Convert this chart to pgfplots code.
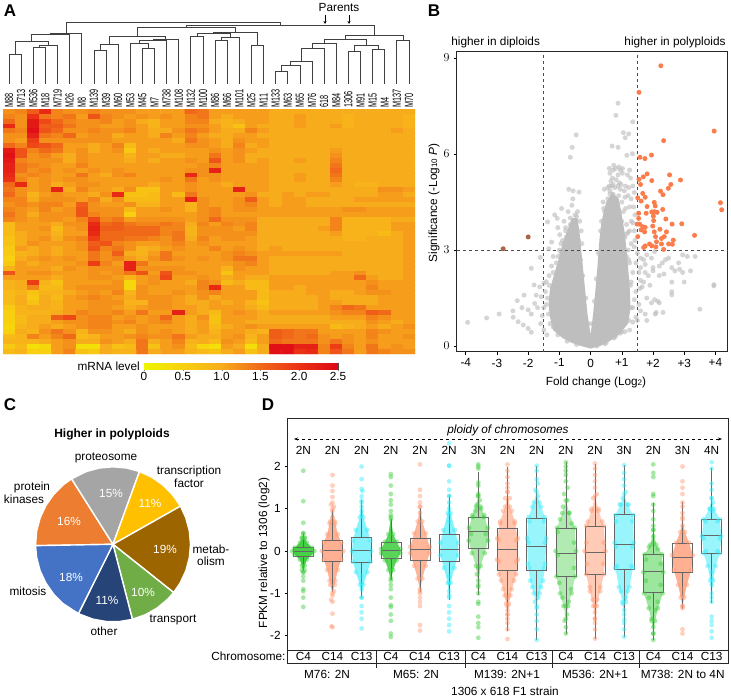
\documentclass[border=0pt]{standalone}
\usepackage{fontspec}
\setmainfont{Liberation Sans}
\usepackage{pgfplots}
\pgfplotsset{compat=1.18}
\usepgfplotslibrary{polar,statistics}
\usetikzlibrary{arrows.meta}

\definecolor{gC}{RGB}{60,205,60}
\definecolor{sC}{RGB}{255,150,110}
\definecolor{cC}{RGB}{50,235,250}
\definecolor{vol}{RGB}{190,190,190}
\definecolor{org}{RGB}{250,125,75}
\definecolor{brn}{RGB}{170,100,70}
\definecolor{p1}{RGB}{237,125,49}
\definecolor{p2}{RGB}{165,165,165}
\definecolor{p3}{RGB}{255,192,0}
\definecolor{p4}{RGB}{156,101,0}
\definecolor{p5}{RGB}{112,173,71}
\definecolor{p6}{RGB}{38,68,120}
\definecolor{p7}{RGB}{68,114,196}

\pgfplotsset{
  colormap={hm}{rgb255=(238,245,0) rgb255=(248,208,15) rgb255=(247,172,28) rgb255=(240,105,25) rgb255=(235,50,20) rgb255=(222,8,22)},
  dend/.style={no markers,color=black!75,line width=0.75pt},
  dots/.style={only marks,mark=*,mark size=2.4pt,mark options={draw=#1,draw opacity=0,fill=#1,fill opacity=0.45}},
  gdots/.style={only marks,mark=*,mark size=2.5pt,mark options={draw=vol,draw opacity=0,fill=vol,fill opacity=0.65}},
  vdots/.style={only marks,mark=*,mark size=2.5pt,mark options={draw=#1,draw opacity=0,fill=#1}},
  slice/.style={fill=#1,draw=white,line width=1.4pt,no markers},
}
% dendrogram merge: x1 h1 height x2 h2
\newcommand\mg[5]{\addplot[dend] coordinates {(#1,#2)(#1,#3)(#4,#3)(#4,#5)};}
\newcommand\hl[1]{\scalebox{0.62}[1]{#1}}
\newcommand\bx[6]{\addplot[color=black!60,line width=0.5pt,boxplot prepared={draw position=#1,lower whisker=#2,lower quartile=#3,median=#4,upper quartile=#5,upper whisker=#6,box extend=0.69,whisker extend=0,every median/.style={line width=0.9pt}}] coordinates {};}
% swarm body: colour, opacity, outline points
\newcommand\sw[3]{\addplot[fill=#1,fill opacity=#2,draw=none] coordinates {#3};\addplot[dots=#1] coordinates {#3};}

% mRNA level x10, rows top to bottom, 34 strains
\def\hmcoords{}
\foreach \row [count=\r] in {
{12,13,16,21,13,12,12,13,12,12,12,11,11,11,11,15,14,11,11,11,11,11,10,10,10,10,10,10,10,10,10,10,10,10},
{13,12,20,14,13,14,11,17,13,12,11,12,11,12,11,13,14,11,10,11,11,11,10,10,11,10,10,10,9,10,10,10,10,9},
{15,12,23,18,15,13,12,12,13,11,12,10,9,11,11,13,13,10,9,10,11,11,10,10,11,10,10,10,9,10,10,10,10,9},
{21,12,23,16,16,14,12,12,11,11,12,11,9,11,11,12,12,11,9,7,11,10,10,10,11,10,10,11,9,10,10,10,10,9},
{14,13,24,17,15,12,12,13,12,12,13,11,10,10,12,14,13,11,10,10,13,11,10,10,10,10,10,10,10,10,10,10,11,10},
{12,12,22,14,13,15,11,12,12,10,11,11,10,13,11,13,11,10,10,11,11,10,10,10,10,10,10,10,10,10,10,10,10,10},
{12,11,19,12,12,12,12,12,12,11,11,11,11,11,10,14,12,11,10,12,11,11,10,10,10,10,10,10,10,10,10,10,10,10},
{15,13,18,17,15,11,11,10,11,13,8,11,11,11,11,12,12,11,10,13,10,11,10,10,10,10,10,10,10,10,10,10,10,10},
{23,17,13,15,14,11,12,10,11,12,6,11,10,11,11,11,11,12,11,12,11,10,10,10,10,10,10,11,10,10,10,10,10,10},
{24,17,12,13,11,10,12,11,11,11,9,11,11,10,10,11,11,14,11,12,10,10,10,10,10,10,10,12,10,10,10,10,10,10},
{23,13,12,12,12,10,12,11,11,11,10,11,10,11,11,12,11,17,11,12,10,11,10,10,11,10,10,13,10,10,10,10,10,10},
{22,14,13,12,11,11,13,11,11,11,11,11,11,11,11,11,12,13,11,11,11,11,10,10,10,10,10,14,10,10,10,10,10,10},
{22,14,12,13,11,12,11,12,11,12,11,11,11,11,11,12,12,22,11,11,11,11,10,10,10,10,10,15,10,10,10,10,10,10},
{21,12,13,12,11,11,14,11,10,12,13,11,11,11,11,21,12,12,11,11,11,11,10,10,11,10,10,14,10,10,10,10,10,10},
{20,13,11,12,11,12,12,11,11,11,11,11,11,12,11,14,11,12,11,11,11,11,10,10,11,10,10,13,10,10,10,10,10,10},
{15,21,11,12,10,11,12,12,11,11,11,11,10,11,11,12,11,11,10,11,11,11,10,10,10,10,10,11,10,9,9,10,10,10},
{14,12,11,12,22,10,13,11,11,10,12,7,7,11,11,12,11,11,11,22,11,11,10,10,10,10,10,10,10,10,10,12,12,11},
{15,12,9,11,12,11,11,10,12,21,7,7,8,11,8,14,11,11,11,11,12,10,10,11,10,11,11,10,10,10,10,11,11,10},
{13,13,10,12,12,12,11,13,10,12,8,8,8,11,11,22,12,11,11,12,16,11,10,11,11,10,10,10,10,11,11,11,11,11},
{12,13,12,13,13,11,16,12,11,11,12,9,9,11,11,9,12,11,11,12,13,11,10,11,11,10,10,10,10,10,10,10,10,10},
{13,12,11,13,11,12,17,12,12,12,8,11,11,12,11,9,12,13,11,12,12,11,11,11,11,11,11,11,12,12,11,11,11,11},
{14,12,10,12,12,12,17,13,12,12,5,11,11,11,11,11,12,13,11,11,11,11,11,11,11,11,11,11,11,11,11,11,11,11},
{13,12,11,12,12,11,13,18,13,14,11,12,12,12,12,11,12,15,12,12,12,10,10,10,10,10,10,13,9,9,9,9,10,10},
{8,11,11,11,10,12,12,21,15,16,14,13,13,14,13,10,13,11,13,12,13,10,10,10,10,10,10,13,9,9,9,9,11,11},
{8,11,11,12,8,11,12,22,16,16,15,15,15,13,13,9,12,12,12,11,13,10,10,10,10,10,11,13,9,9,9,9,11,11},
{8,10,11,11,9,11,11,21,15,15,15,15,15,13,14,9,12,12,12,12,12,10,10,10,10,10,10,11,9,9,9,8,10,11},
{7,10,11,12,10,12,13,19,15,15,14,14,13,12,14,10,13,11,12,12,11,10,10,10,10,10,10,10,9,9,10,10,10,11},
{7,10,12,11,11,11,12,16,17,13,12,11,11,12,13,11,12,11,11,11,11,10,10,10,10,10,10,10,10,10,10,10,10,11},
{6,11,10,11,10,11,12,17,13,14,12,9,10,11,12,11,11,13,11,12,11,10,11,10,10,10,10,10,10,10,10,10,10,11},
{6,9,10,11,10,11,11,14,12,16,10,9,11,14,11,11,11,11,12,13,12,11,11,11,11,11,11,11,10,10,10,10,10,11},
{5,10,11,12,11,12,11,14,12,13,11,10,12,14,12,11,12,11,12,14,14,11,10,10,10,10,10,10,10,10,10,10,10,11},
{6,11,10,11,11,11,12,19,13,11,22,14,11,11,11,11,11,11,11,12,13,11,10,10,10,10,10,10,10,10,10,10,10,11},
{9,11,11,11,10,12,11,12,12,12,22,12,12,12,12,11,11,11,9,12,11,11,10,10,10,10,10,10,10,10,10,10,10,11},
{17,11,12,12,11,11,11,12,11,12,14,17,11,17,12,12,11,11,7,11,11,11,10,10,10,10,10,11,11,12,10,10,10,11},
{11,11,11,11,10,11,11,12,12,11,9,11,12,18,11,11,12,11,10,11,10,10,11,11,11,11,11,11,11,15,11,10,10,11},
{9,10,19,9,7,11,11,11,11,12,4,11,12,11,11,10,13,12,8,10,8,8,11,11,11,11,11,11,11,11,12,11,11,11},
{9,10,13,8,8,11,12,12,12,12,4,12,11,11,11,11,13,21,11,11,8,8,11,11,10,11,11,11,11,11,13,11,11,11},
{8,9,7,9,9,10,11,12,11,13,9,12,11,11,12,11,12,13,11,11,11,8,10,10,10,11,11,10,10,11,12,12,11,11},
{8,10,6,10,8,11,12,13,12,11,10,12,12,12,11,10,12,10,11,11,11,8,10,10,10,10,11,10,10,10,10,11,11,11},
{8,10,7,10,9,11,11,12,12,12,9,9,12,12,11,10,10,11,10,11,9,7,10,10,10,10,11,11,10,10,10,11,11,11},
{6,9,10,10,9,11,11,12,12,11,10,11,12,12,11,11,10,11,11,11,10,8,10,10,10,10,11,13,15,14,11,11,11,11},
{5,9,9,9,10,11,13,12,12,13,11,14,11,11,22,11,10,8,11,12,11,10,11,11,11,11,11,12,13,13,16,15,11,11},
{5,8,10,10,16,18,12,13,13,11,12,11,12,15,11,10,12,7,11,11,11,10,10,10,10,10,10,11,11,11,13,12,11,11},
{5,8,10,10,11,12,12,13,13,12,13,11,12,13,11,10,11,7,11,11,10,10,10,10,10,10,10,10,10,10,12,11,10,11},
{4,9,10,11,10,11,12,13,13,11,11,12,11,11,11,10,11,8,10,11,12,11,11,11,11,11,11,8,9,10,11,10,11,12},
{5,10,9,12,14,12,9,12,12,11,10,12,11,12,11,10,11,9,11,11,10,9,16,15,14,14,11,11,11,11,13,12,11,11},
{8,9,13,11,13,15,8,9,11,11,12,13,12,12,14,11,10,10,11,12,9,11,16,15,14,15,12,11,12,11,13,11,11,12},
{9,9,9,10,11,12,10,10,12,11,10,14,10,11,13,9,10,8,12,11,8,11,15,14,14,14,12,14,12,11,12,11,11,11},
{6,8,3,4,11,12,3,3,10,7,8,14,7,11,12,8,4,3,11,10,3,10,24,24,22,22,13,19,13,11,14,11,12,11},
{8,9,5,5,11,13,7,6,10,9,9,14,10,11,11,9,8,7,10,11,7,10,24,24,20,21,13,17,14,11,14,13,12,12}%
}{\foreach \v [count=\c] in \row {\xdef\hmcoords{\hmcoords(\c,\r)[\v]}}}

\begin{document}
\fontsize{11.8}{14}\selectfont
\begin{tikzpicture}
\useasboundingbox (0pt,0pt) rectangle (731pt,-698pt);

% A: dendrogram
\begin{axis}[at={(3pt,-84pt)},anchor=south west,scale only axis,width=412pt,height=66pt,
  hide axis,xmin=0.5,xmax=34.5,ymin=0,ymax=66,clip=false]
\mg{1}{0}{29.3}{2}{0}
\mg{3}{0}{37}{4}{0}
\mg{3.5}{37}{38.3}{5}{0}
\mg{1.5}{29.3}{42.3}{4.25}{38.3}
\mg{2.875}{42.3}{50}{6}{0}
\mg{4.44}{50}{50.7}{7}{0}
\mg{5.72}{50.7}{61.3}{23.38}{59}
\mg{15.64}{56.7}{59}{31.13}{49}
\mg{11.6}{47.7}{56.7}{19.69}{51.7}
\mg{9.25}{40}{47.7}{13.94}{45}
\mg{8.5}{33.7}{40}{10}{0}
\mg{8}{0}{33.7}{9}{0}
\mg{12.875}{44}{45}{15}{0}
\mg{11.75}{41}{44}{14}{0}
\mg{11}{0}{41}{12.5}{35.7}
\mg{12}{0}{35.7}{13}{0}
\mg{17.875}{50.7}{51.7}{21.5}{39}
\mg{16.5}{47.3}{50.7}{19.25}{47}
\mg{16}{0}{47.3}{17}{0}
\mg{18.5}{43.3}{47}{20}{0}
\mg{18}{0}{43.3}{19}{0}
\mg{21}{0}{39}{22}{0}
\mg{28.77}{44.7}{49}{33.5}{43.7}
\mg{27.03}{40.7}{44.7}{30.5}{38.7}
\mg{26.06}{35.7}{40.7}{28}{0}
\mg{25.125}{22.7}{35.7}{27}{0}
\mg{24.25}{18.7}{22.7}{26}{0}
\mg{23.5}{12.3}{18.7}{25}{0}
\mg{23}{0}{12.3}{24}{0}
\mg{29.5}{33}{38.7}{31.5}{34.3}
\mg{29}{0}{33}{30}{0}
\mg{31}{0}{34.3}{32}{0}
\mg{33}{0}{43.7}{34}{0}
\end{axis}

% A: heat map
\begin{axis}[at={(3pt,-354pt)},anchor=south west,scale only axis,width=412pt,height=245pt,
  xmin=0.5,xmax=34.5,ymin=0.5,ymax=50.5,y dir=reverse,axis line style={draw=none},
  colormap name=hm,point meta min=0,point meta max=25,
  xtick={1,...,34},ytick=\empty,major tick length=0pt,xticklabel pos=top,
  x tick label style={rotate=90,anchor=west,inner sep=1.5pt},
  xticklabels={\hl{M88},\hl{M713},\hl{M536},\hl{M18},\hl{M719},\hl{M26},\hl{M8},\hl{M139},\hl{M39},\hl{M60},\hl{M53},\hl{M45},\hl{M7},\hl{M738},\hl{M108},\hl{M132},\hl{M100},\hl{M86},\hl{M66},\hl{M101},\hl{M25},\hl{M11},\hl{M133},\hl{M63},\hl{M65},\hl{M76},\hl{618},\hl{M84},\hl{1306},\hl{M91},\hl{M15},\hl{M4},\hl{M137},\hl{M70}}]
\edef\tmp{\noexpand\addplot[matrix plot*,mesh/cols=34,point meta=explicit] coordinates {\hmcoords};}\tmp
\end{axis}

% A: colour key
\begin{axis}[at={(144pt,-369pt)},anchor=south west,scale only axis,width=194pt,height=6pt,
  xmin=0,xmax=25,ymin=0,ymax=1,colormap name=hm,point meta min=0,point meta max=25,
  xtick={0,5,10,15,20,25},xticklabels={0,0.5,1.0,1.5,2.0,2.5},ytick=\empty,
  tick align=outside,major tick length=2pt,axis line style={black!70},tick pos=bottom,
  x tick label style={inner sep=1.5pt}]
\addplot[surf,shader=interp,mesh/rows=2,point meta=explicit] coordinates {(0,0)[0] (25,0)[25] (0,1)[0] (25,1)[25]};
\end{axis}

% B: volcano
\begin{axis}[at={(456.7pt,-351.7pt)},anchor=south west,scale only axis,width=270.3pt,height=300pt,
  xmin=-4.29,xmax=4.37,ymin=-0.177,ymax=9.2,axis line style={line width=0.9pt,black!85},
  xtick={-4,-3,-2,-1,0,1,2,3,4},xticklabels={-4,-3,-2,-1,0,+1,+2,+3,+4},ytick={0,3,6,9},
  tick align=outside,major tick length=3pt,tick pos=left,
  tick style={line width=0.6pt,black},clip=false]
\addplot[fill=vol,draw=none] coordinates {(0,-0.08)(-0.3,0)(-0.6,0.1)(-0.9,0.25)(-1.2,0.5)(-1.3,0.9)(-1.35,1.3)(-1.3,1.8)(-1.15,2.3)(-1.0,2.8)(-0.9,3.2)(-0.75,3.6)(-0.6,4.0)(-0.42,4.0)(-0.35,3.5)(-0.3,3)(-0.2,2)(-0.1,1)(0,0.35)(0.08,1)(0.15,1.7)(0.22,2.5)(0.28,3.3)(0.35,3.9)(0.5,4.5)(0.7,4.8)(0.9,4.6)(1.0,4.1)(1.1,3.5)(1.18,2.7)(1.25,1.9)(1.28,1.2)(1.2,0.7)(0.9,0.35)(0.6,0.15)(0.3,0)};
\addplot[gdots] coordinates {
(-1.3,.7)(-1.35,1.0)(-1.38,1.5)(-1.33,1.9)(-1.2,2.3)(-1.05,2.8)(-.95,3.2)(-.8,3.6)(-.65,4.0)(-.45,4.05)(-.38,3.3)(-.32,2.7)(-.25,2.2)(-.15,1.5)(-.07,.7)(-1.05,.35)(-.75,.15)(-.45,.05)(-1.2,.6)
(.05,.7)(.12,1.4)(.18,2.1)(.25,2.9)(.32,3.6)(.42,4.3)(.62,4.75)(.9,4.7)(1.05,4.2)(1.15,3.5)(1.22,2.7)(1.28,1.9)(1.3,1.2)(1.22,.8)(1.0,.45)(.75,.25)(.45,.07)(.2,.0)
(.55,4.95)(.68,5.0)(.78,4.95)(.88,5.0)(.98,5.05)(1.08,4.85)(1.22,4.95)(.7,5.25)(.88,5.35)(.6,5.55)(.74,5.65)(.9,5.6)(1.02,5.55)(1.28,5.25)(1.4,4.8)(1.1,4.65)(1.25,4.35)(1.3,3.9)(1.2,3.55)(1.4,3.6)
(-3.94,.74)(-3.33,.88)(-2.93,1.0)(-2.49,1.10)(-2.35,1.42)(-2.13,1.59)(-2.48,.90)(-2.32,.76)(-2.16,.66)(-2.0,.55)(-1.9,.43)(-2.0,1.13)(-1.79,1.33)(-1.81,1.91)(-1.90,2.43)(-1.61,2.77)(-1.74,1.59)(-1.58,1.54)(-1.63,1.85)(-1.5,1.96)(-1.42,2.01)
(-1.7,1.2)(-1.55,.95)(-1.6,.7)(-1.5,.5)(-1.4,.35)(-1.9,1.0)(-2.2,1.2)(-1.42,1.3)(-1.45,1.7)(-1.5,1.2)
(-1.38,3.88)(-1.15,4.1)(-.93,4.3)(-1.07,3.99)(-.7,4.9)(-.56,4.85)(-.37,4.81)(-.57,4.6)(-1.25,3.25)(-1.34,3.04)(-.99,3.48)(-.78,3.4)(-1.2,2.8)(-1.25,2.5)(-1.33,2.2)(-1.05,3.7)(-.85,3.9)(-.6,4.4)(-.42,4.2)(-.72,4.2)(-.5,4.1)(-.9,3.3)(-1.0,3.0)(-1.1,2.6)(-.95,2.9)(-.8,3.7)(-.35,3.9)(-.3,3.6)(-.28,3.2)(-.65,3.8)(-.55,3.9)
(-.46,6.6)(-.59,6.21)(-.65,5.9)
(.88,7.59)(.81,7.21)(1.35,7.01)(1.05,6.67)(1.22,6.63)(1.11,6.51)(.69,6.25)(.88,6.21)(1.16,5.96)(1.34,6.01)
(.44,4.9)(.62,4.85)(.72,4.75)(.95,4.9)(1.2,4.7)(1.3,4.6)(1.0,4.5)(1.12,4.3)(1.38,4.35)(1.42,4.1)(1.35,3.85)(1.25,3.6)(1.1,3.4)(1.3,3.2)(1.42,3.3)(1.2,3.0)(1.4,3.1)(.62,5.4)(.72,5.5)(.8,5.55)(.95,5.5)(.65,5.15)(.82,5.2)(.92,5.1)(.6,5.0)(.72,5.05)(1.02,5.4)(1.25,5.5)(1.18,5.35)(1.35,5.0)(1.12,5.0)(.4,4.5)(.45,4.2)(.35,3.9)(.85,4.3)(.7,4.4)(.55,4.6)(1.0,3.9)(1.15,3.8)(1.05,2.9)
(1.8,2.85)(1.6,2.75)(1.75,2.55)(1.6,2.45)(1.55,2.3)(1.75,2.3)(1.85,2.2)(1.6,2.05)(1.7,2.0)(1.65,1.85)(1.58,1.8)(2.0,2.35)(2.2,2.2)(2.3,2.6)(2.4,2.7)(2.5,2.75)(2.2,2.5)(2.6,2.45)(2.7,2.35)(2.85,2.4)(2.95,2.3)(2.82,2.6)(2.95,2.85)(3.1,2.8)(3.35,2.8)(3.2,2.35)(3.0,2.0)(3.95,1.92)(3.95,1.88)(3.5,1.15)(2.6,2.0)(2.6,1.7)(2.6,1.6)(2.1,1.05)(2.07,1.0)(1.8,.8)(1.5,.8)(1.75,1.0)(1.8,1.5)(1.95,1.35)(2.05,1.45)(2.15,1.4)(2.2,1.35)(2.32,1.05)(1.45,.9)(1.35,.75)(1.25,.5)(1.1,.45)(.95,.4)(.8,.3)(.5,.1)(1.55,1.3)(1.6,1.1)(1.45,1.7)(1.4,1.45)(1.35,1.2)(1.3,2.0)(1.35,2.3)(1.45,2.6)(1.5,2.9)(1.7,2.7)(1.25,2.6)(1.15,2.8)(1.95,2.75)(2.05,2.95)(2.35,2.25)(1.9,1.9)(2.0,2.45)};
\addplot[vdots=org] coordinates {
(2.25,8.76)(1.55,7.93)(3.96,6.72)(2.34,6.42)(1.58,5.90)(1.74,5.86)(1.95,5.97)(1.81,5.38)(1.69,5.29)(1.55,5.21)(1.96,5.17)(2.53,5.35)(2.88,5.19)(2.57,5.05)(2.49,4.93)(2.24,4.84)(2.32,4.73)(1.67,4.77)(1.60,5.05)(1.51,4.63)(1.62,4.53)(1.75,4.65)(4.16,4.48)(4.20,4.26)(2.04,4.49)(2.07,4.38)(1.81,4.36)(2.31,4.27)(1.78,4.15)(1.96,4.19)(2.04,4.2)(2.13,4.18)(2.01,4.06)(1.54,4.15)(2.41,3.97)(1.54,3.99)(1.57,3.81)(2.02,3.92)(1.49,3.81)(2.61,3.81)(2.92,3.82)(1.99,3.75)(1.67,3.73)(1.75,3.71)(1.73,3.57)(2.04,3.57)(2.22,3.65)(2.43,3.57)(1.51,3.42)(1.62,3.63)(2.08,3.42)(2.36,3.42)(2.27,3.36)(2.65,3.31)(3.33,3.46)(2.11,3.26)(1.89,3.19)(1.75,3.13)(1.96,3.13)(2.09,3.10)(2.27,3.19)(2.50,3.19)(2.62,3.18)(2.34,3.02)(1.70,3.08)};
\addplot[vdots=brn] coordinates {(-2.0,3.41)(-2.8,3.04)};
\addplot[dashed,black!70,line width=0.6pt] coordinates {(-1.5,-0.177)(-1.5,9.2)};
\addplot[dashed,black!70,line width=0.6pt] coordinates {(1.5,-0.177)(1.5,9.2)};
\addplot[dashed,black!70,line width=0.6pt] coordinates {(-4.29,3)(4.37,3)};
\end{axis}

% C: pie
\begin{polaraxis}[at={(35.5pt,-621.8pt)},anchor=south west,scale only axis,width=155pt,height=155pt,
  hide axis,xmin=0,xmax=360,ymin=0,ymax=1,clip=false]
\addplot[slice=p1] coordinates {(122.3,0)(122.3,1)(130,1)(140,1)(150,1)(160,1)(170,1)(181,1)(181,0)};
\addplot[slice=p2] coordinates {(70,0)(70,1)(80,1)(90,1)(100,1)(110,1)(122.3,1)(122.3,0)};
\addplot[slice=p3] coordinates {(29.5,0)(29.5,1)(40,1)(50,1)(60,1)(70,1)(70,0)};
\addplot[slice=p4] coordinates {(321.5,0)(321.5,1)(330,1)(340,1)(350,1)(360,1)(370,1)(380,1)(389.5,1)(389.5,0)};
\addplot[slice=p5] coordinates {(284.5,0)(284.5,1)(295,1)(305,1)(315,1)(321.5,1)(321.5,0)};
\addplot[slice=p6] coordinates {(243.5,0)(243.5,1)(255,1)(265,1)(275,1)(284.5,1)(284.5,0)};
\addplot[slice=p7] coordinates {(181,0)(181,1)(190,1)(200,1)(210,1)(220,1)(230,1)(243.5,1)(243.5,0)};
\end{polaraxis}

% D: swarms and boxes
\begin{axis}[at={(287.7pt,-650pt)},anchor=south west,scale only axis,width=440.3pt,height=231.7pt,
  xmin=0.465,xmax=15.56,ymin=-2.34,ymax=3.14,boxplot/draw direction=y,
  axis line style={line width=0.9pt,black!85},
  xtick={1,...,15},xticklabels={C4,C14,C13,C4,C14,C13,C4,C14,C13,C4,C14,C13,C4,C14,C13},
  ytick={-2,-1,0,1,2},yticklabels={-2,-1,0,1,2},
  major x tick style={draw=none},major y tick style={black,line width=0.6pt},
  ytick pos=left,xtick pos=bottom,tick align=outside,major tick length=3pt,
  x tick label style={inner sep=0pt,yshift=0.5pt},clip=false]
\sw{gC}{0.95}{(1,.42)(1.05,.3)(1.12,.2)(1.3,.08)(1.38,0)(1.3,-.08)(1.12,-.2)(1.05,-.35)(1,-.5)(.95,-.35)(.88,-.2)(.7,-.08)(.62,0)(.7,.08)(.88,.2)(.95,.3)}
\sw{sC}{0.75}{(2,1.0)(2.1,.65)(2.18,.4)(2.3,.2)(2.37,0)(2.3,-.2)(2.18,-.45)(2.1,-.7)(2,-1)(1.9,-.7)(1.82,-.45)(1.7,-.2)(1.63,0)(1.7,.2)(1.82,.4)(1.9,.65)}
\sw{cC}{0.6}{(3,1.2)(3.06,.8)(3.2,.5)(3.3,.25)(3.33,0)(3.3,-.25)(3.2,-.5)(3.06,-.8)(3,-1.1)(2.94,-.8)(2.8,-.5)(2.7,-.25)(2.67,0)(2.7,.25)(2.8,.5)(2.94,.8)}
\sw{gC}{0.85}{(4,.8)(4.08,.4)(4.2,.22)(4.33,.05)(4.33,-.05)(4.2,-.22)(4.08,-.45)(4,-.7)(3.92,-.45)(3.8,-.22)(3.67,-.05)(3.67,.05)(3.8,.22)(3.92,.4)}
\sw{sC}{0.7}{(5,1.05)(5.08,.7)(5.2,.42)(5.33,.1)(5.33,-.05)(5.2,-.35)(5.08,-.65)(5,-.95)(4.92,-.65)(4.8,-.35)(4.67,-.05)(4.67,.1)(4.8,.42)(4.92,.7)}
\sw{cC}{0.6}{(6,1.3)(6.05,.9)(6.2,.5)(6.3,.2)(6.3,-.1)(6.18,-.4)(6.05,-.75)(6,-1.1)(5.95,-.75)(5.82,-.4)(5.7,-.1)(5.7,.2)(5.8,.5)(5.95,.9)}
\sw{gC}{0.45}{(7,1.3)(7.08,1.05)(7.2,.85)(7.32,.55)(7.33,.25)(7.22,-.05)(7.08,-.35)(7,-.8)(6.92,-.35)(6.78,-.05)(6.67,.25)(6.68,.55)(6.8,.85)(6.92,1.05)}
\sw{sC}{0.55}{(8,1.4)(8.08,1.05)(8.25,.7)(8.35,.3)(8.36,-.2)(8.3,-.55)(8.15,-.9)(8.05,-1.25)(8,-1.5)(7.95,-1.25)(7.85,-.9)(7.7,-.55)(7.64,-.2)(7.65,.3)(7.75,.7)(7.92,1.05)}
\sw{cC}{0.5}{(9,1.4)(9.1,1.15)(9.28,.8)(9.33,.3)(9.3,-.3)(9.22,-.7)(9.1,-1)(9,-1.3)(8.9,-1)(8.78,-.7)(8.7,-.3)(8.67,.3)(8.72,.8)(8.9,1.15)}
\sw{gC}{0.4}{(10,1.2)(10.12,.9)(10.3,.55)(10.35,0)(10.32,-.6)(10.2,-1)(10.08,-1.3)(10,-1.6)(9.92,-1.3)(9.8,-1)(9.68,-.6)(9.65,0)(9.7,.55)(9.88,.9)}
\sw{sC}{0.5}{(11,1.3)(11.12,.95)(11.3,.6)(11.36,0)(11.3,-.55)(11.18,-.95)(11.06,-1.3)(11,-1.6)(10.94,-1.3)(10.82,-.95)(10.7,-.55)(10.64,0)(10.7,.6)(10.88,.95)}
\sw{cC}{0.5}{(12,1.35)(12.12,1.1)(12.3,.85)(12.33,.2)(12.3,-.4)(12.18,-.85)(12.06,-1.2)(12,-1.5)(11.94,-1.2)(11.82,-.85)(11.7,-.4)(11.67,.2)(11.7,.85)(11.88,1.1)}
\sw{gC}{0.5}{(13,.5)(13.1,.15)(13.3,-.08)(13.34,-.5)(13.32,-1)(13.16,-1.35)(13.06,-1.65)(13,-1.95)(12.94,-1.65)(12.84,-1.35)(12.68,-1)(12.66,-.5)(12.7,-.08)(12.9,.15)}
\sw{sC}{0.75}{(14,.75)(14.08,.45)(14.22,.2)(14.36,-.1)(14.3,-.45)(14.15,-.8)(14.06,-1.1)(14,-1.3)(13.94,-1.1)(13.85,-.8)(13.7,-.45)(13.64,-.1)(13.78,.2)(13.92,.45)}
\sw{cC}{0.5}{(15,1.25)(15.08,1)(15.28,.75)(15.33,.35)(15.28,-.05)(15.14,-.35)(15.05,-.7)(15,-1.1)(14.95,-.7)(14.86,-.35)(14.72,-.05)(14.67,.35)(14.72,.75)(14.92,1)}
% green C4 points
\addplot[dots=gC] coordinates {(1,1.9)(1,1.18)(1,.67)(1,.42)(1.05,.32)(.95,.32)(1,-.5)(1,-.6)(1,-.7)(1,-.9)(1,-.95)(1,-1.1)(1,-1.32)(.95,-.45)(1.05,-.45)
(4,1.82)(4,1.75)(4,1.55)(4,1.35)(4,1.2)(4,1.1)(4,.95)(4,.85)(4,.75)(4,-.65)(4,-.8)(4,-.9)(4,-1.1)(4,-1.28)(4,-1.32)(4,-1.5)(4,-1.65)(4,-1.95)(4,-2.03)
(7,2.05)(7,2)(7,1.95)(7,1.62)(7,1.55)(7,1.35)(7,1.3)(7.05,1.2)(6.95,1.1)(7.1,1)(6.9,.95)(7.2,.8)(6.8,.8)(7.25,.4)(6.75,.4)(7,-.4)(6.95,-.55)(7,-.7)(7,-.85)(7,-1)(7,-1.2)(7,-1.25)(7,-1.55)(7,-1.7)(7,-1.8)(7,-2.05)
(10,2.1)(10,2)(10,1.9)(10,1.8)(10,1.65)(10.06,1.5)(9.94,1.35)(10.05,1.2)(9.9,1.05)(10.12,.9)(9.8,.75)(10.2,.65)(9.72,.45)(10.28,.2)(9.72,-.1)(10.28,-.4)(9.78,-.75)(10.18,-.9)(9.88,-1.1)(10.1,-1.2)(10,-1.3)(10.04,-1.5)(9.96,-1.65)(10,-1.8)(10,-1.95)
(13,2.05)(13,1.85)(13,1.75)(13,1.35)(13,1.3)(13,1.1)(13,.95)(13,.75)(13,.6)(13,.5)(13,.35)(13,.2)(12.85,.1)(13.15,.05)(12.75,-.2)(13.25,-.3)(12.75,-.7)(13.25,-.8)(12.85,-1.1)(13.15,-1.2)(13.06,-1.4)(12.94,-1.6)(13,-1.8)(13,-1.95)(13,-2.1)};
% salmon C14 points
\addplot[dots=sC] coordinates {(2,1.8)(2,1.55)(2,1.42)(2,1.28)(2,1.15)(2.05,1.05)(1.95,1.1)(2,.95)(2,.8)(1.92,.7)(2.08,.7)(2,-1.8)(1.97,-1.78)(2,-1.48)(2,-1.2)(2,-1.05)(1.95,-1.15)(2.05,-.95)(1.92,-.8)(2.08,-.8)
(5,2.05)(5,1.45)(5,1.3)(5,1.15)(5,1.05)(5,.9)(5,-.9)(5,-1)(5,-1.1)(5,-1.2)(5,-1.3)(5,-1.75)(5,-1.88)
(8,2.05)(8,1.9)(8,1.75)(8,1.6)(8,1.5)(8,1.4)(8.08,1.25)(7.92,1.25)(8.15,.95)(7.85,.95)(8.25,.65)(7.75,.65)(8.3,.25)(7.7,.25)(8.3,-.25)(7.7,-.25)(8.22,-.7)(7.78,-.7)(8.1,-1.05)(7.9,-1.05)(8,-1.1)(8,-1.3)(8,-1.4)(8,-1.5)(8,-1.6)(8,-1.7)(8,-1.85)(8,-2.08)
(11,2.07)(11,1.95)(11,1.8)(11,1.65)(11,1.5)(11.06,1.35)(10.94,1.25)(11.12,1)(10.88,1)(11.25,.7)(10.75,.7)(11.3,.2)(10.7,.2)(11.28,-.3)(10.72,-.3)(11.18,-.85)(10.82,-.85)(11.08,-1.15)(10.92,-1.15)(11,-1.3)(11,-1.45)(11,-1.6)(11,-1.7)(11,-1.85)(11,-2.07)
(14,2)(14,1.65)(14,1.5)(14,1.35)(14,1.15)(14,1.05)(14,.9)(14,.8)(14,.6)(14,-.9)(14,-1.05)(14,-1.3)(14,-1.35)(14,-1.85)(14,-1.95)};
% cyan C13 points
\addplot[dots=cC] coordinates {(3,2)(3,1.7)(3,1.47)(3.03,1.42)(3,1.3)(3,1.15)(3,1.05)(3,.95)(3,.85)(3,-1.83)(3,-1.6)(3,-1.45)(3,-1.3)(3,-1.1)(3,-.9)(3,-.75)(3,-.6)
(6,2.55)(6,2.02)(6,2.02)(6,1.65)(6,1.45)(6,1.3)(6,1.15)(6,1)(6,.85)(6,.7)(6,-.6)(6,-.75)(6,-.95)(6,-1.05)(6,-1.3)(6,-1.45)(6,-1.6)(6,-1.75)(6,-1.9)
(9,2.02)(9,1.9)(9,1.7)(9.04,1.6)(8.96,1.45)(9.05,1.3)(9.15,1.05)(8.85,1.05)(9.25,.7)(8.75,.7)(9.28,.2)(8.72,.2)(9.25,-.4)(8.75,-.4)(9.15,-.85)(8.85,-.85)(9.06,-1.1)(8.94,-1.2)(9,-1.35)(9,-1.5)(9,-1.65)(9,-1.85)(9,-2.1)
(12,2.03)(12,1.85)(12,1.7)(12,1.55)(12.05,1.4)(11.95,1.25)(12.15,1.1)(11.85,1.1)(12.28,.7)(11.72,.7)(12.28,.1)(11.72,.1)(12.25,-.35)(11.75,-.35)(12.12,-.95)(11.88,-.95)(12.05,-1.1)(11.95,-1.25)(12,-1.4)(12,-1.62)(12,-1.7)(12,-1.85)(12,-2.03)
(15,2.1)(15,1.95)(15,1.6)(15,1.45)(15,1.25)(15.05,1.15)(14.95,1)(15.02,.95)(15.2,.7)(14.8,.7)(15.28,.3)(14.72,.3)(15.2,0)(14.8,0)(15,-.5)(15,-.65)(15,-.8)(15,-1)(15,-1.2)(15,-1.55)(15,-1.65)(15,-1.75)(15,-1.9)(15,-2.05)};
\bx{1}{-0.45}{-0.12}{0}{0.1}{0.42}
\bx{2}{-0.96}{-0.25}{0.02}{0.26}{0.97}
\bx{3}{-1.12}{-0.27}{0.01}{0.32}{1.2}
\bx{4}{-0.69}{-0.17}{0.01}{0.2}{0.77}
\bx{5}{-0.96}{-0.21}{0.03}{0.3}{1.03}
\bx{6}{-1.16}{-0.24}{0.05}{0.39}{1.33}
\bx{7}{-1.04}{0.06}{0.47}{0.8}{1.86}
\bx{8}{-1.9}{-0.46}{0.05}{0.54}{2.0}
\bx{9}{-2.1}{-0.46}{0.11}{0.77}{2.02}
\bx{10}{-1.95}{-0.59}{-0.06}{0.55}{2.1}
\bx{11}{-2.07}{-0.55}{-0.03}{0.58}{2.07}
\bx{12}{-2.03}{-0.43}{0.16}{0.87}{2.03}
\bx{13}{-2.1}{-0.98}{-0.49}{-0.08}{1.13}
\bx{14}{-1.36}{-0.49}{-0.16}{0.18}{1.17}
\bx{15}{-1.24}{-0.06}{0.37}{0.75}{1.96}
\addplot[draw=none,no markers,nodes near coords,point meta=explicit symbolic,every node near coord/.style={anchor=center,inner sep=0pt,color=black}] coordinates {(1,2.375)[2N] (2,2.375)[2N] (3,2.375)[2N] (4,2.375)[2N] (5,2.375)[2N] (6,2.375)[2N] (7,2.375)[3N] (8,2.375)[2N] (9,2.375)[2N] (10,2.375)[2N] (11,2.375)[2N] (12,2.375)[3N] (13,2.375)[2N] (14,2.375)[3N] (15,2.375)[4N]};
\end{axis}

% text and rules
\begin{scope}[x=1pt,y=-1pt,every node/.style={inner sep=0pt}]
\node[font=\fontsize{17}{17}\selectfont\bfseries] at (10,11) {A};
\node[font=\fontsize{17}{17}\selectfont\bfseries] at (434,11) {B};
\node[font=\fontsize{17}{17}\selectfont\bfseries] at (10,405) {C};
\node[font=\fontsize{17}{17}\selectfont\bfseries] at (268,405) {D};
\node at (339,7) {Parents};
\draw[-{Stealth[length=3pt,width=3pt]},line width=0.6pt] (325,15) -- (325,24);
\draw[-{Stealth[length=3pt,width=3pt]},line width=0.6pt] (349,15) -- (349,24);
\node[anchor=east] at (140,366) {mRNA level};
\node at (495.7,42.7) {higher in diploids};
\node at (675,42.7) {higher in polyploids};
\node at (596,382.7) {Fold change (Log{\fontsize{8}{8}\selectfont 2})};
\node[rotate=90] at (434,203) {Significance (-Log{\fontsize{8}{8}\selectfont 10} \textit{P})};
\node[font=\fontsize{12}{14}\selectfont\bfseries] at (112,434) {Higher in polyploids};
\node at (106,458) {proteosome};
\node at (189,471) {transcription};
\node at (189,483) {factor};
\node at (32,487) {protein};
\node at (24,499) {kinases};
\node at (211,549) {metab-};
\node at (211,561) {olism};
\node at (28,591) {mitosis};
\node at (173,620) {transport};
\node at (104,631) {other};
\begin{scope}[every node/.append style={text=white}]
\node at (111,493) {15\%};
\node at (150,503) {11\%};
\node at (69,521) {16\%};
\node at (165,549) {19\%};
\node at (71,577) {18\%};
\node at (143,592) {10\%};
\node at (107,600) {11\%};
\end{scope}
\node[font=\itshape\fontsize{11.8}{14}\selectfont] at (508,430) {ploidy of chromosomes};
\draw[{Stealth[length=4pt,width=3pt]}-{Stealth[length=4pt,width=3pt]},dashed,line width=0.6pt] (294,439) -- (722,439);
\node[rotate=90] at (264,553) {FPKM relative to 1306 (log2)};
\draw[line width=0.9pt,black!85] (287.7,650) -- (287.7,663.3) -- (728,663.3) -- (728,650);
\foreach \xs in {376.7,465.7,552.3,639.3} \draw[line width=0.9pt,black!85] (\xs,650) -- (\xs,668);
\node[anchor=east] at (285.7,656.7) {Chromosome:};
\node at (327,674) {M76: 2N};
\node at (416,674) {M65: 2N};
\node at (507,674) {M139: 2N+1};
\node at (595,674) {M536: 2N+1};
\node at (682.7,674) {M738: 2N to 4N};
\node at (505,691) {1306 x 618 F1 strain};
\end{scope}
\end{tikzpicture}
\end{document}
